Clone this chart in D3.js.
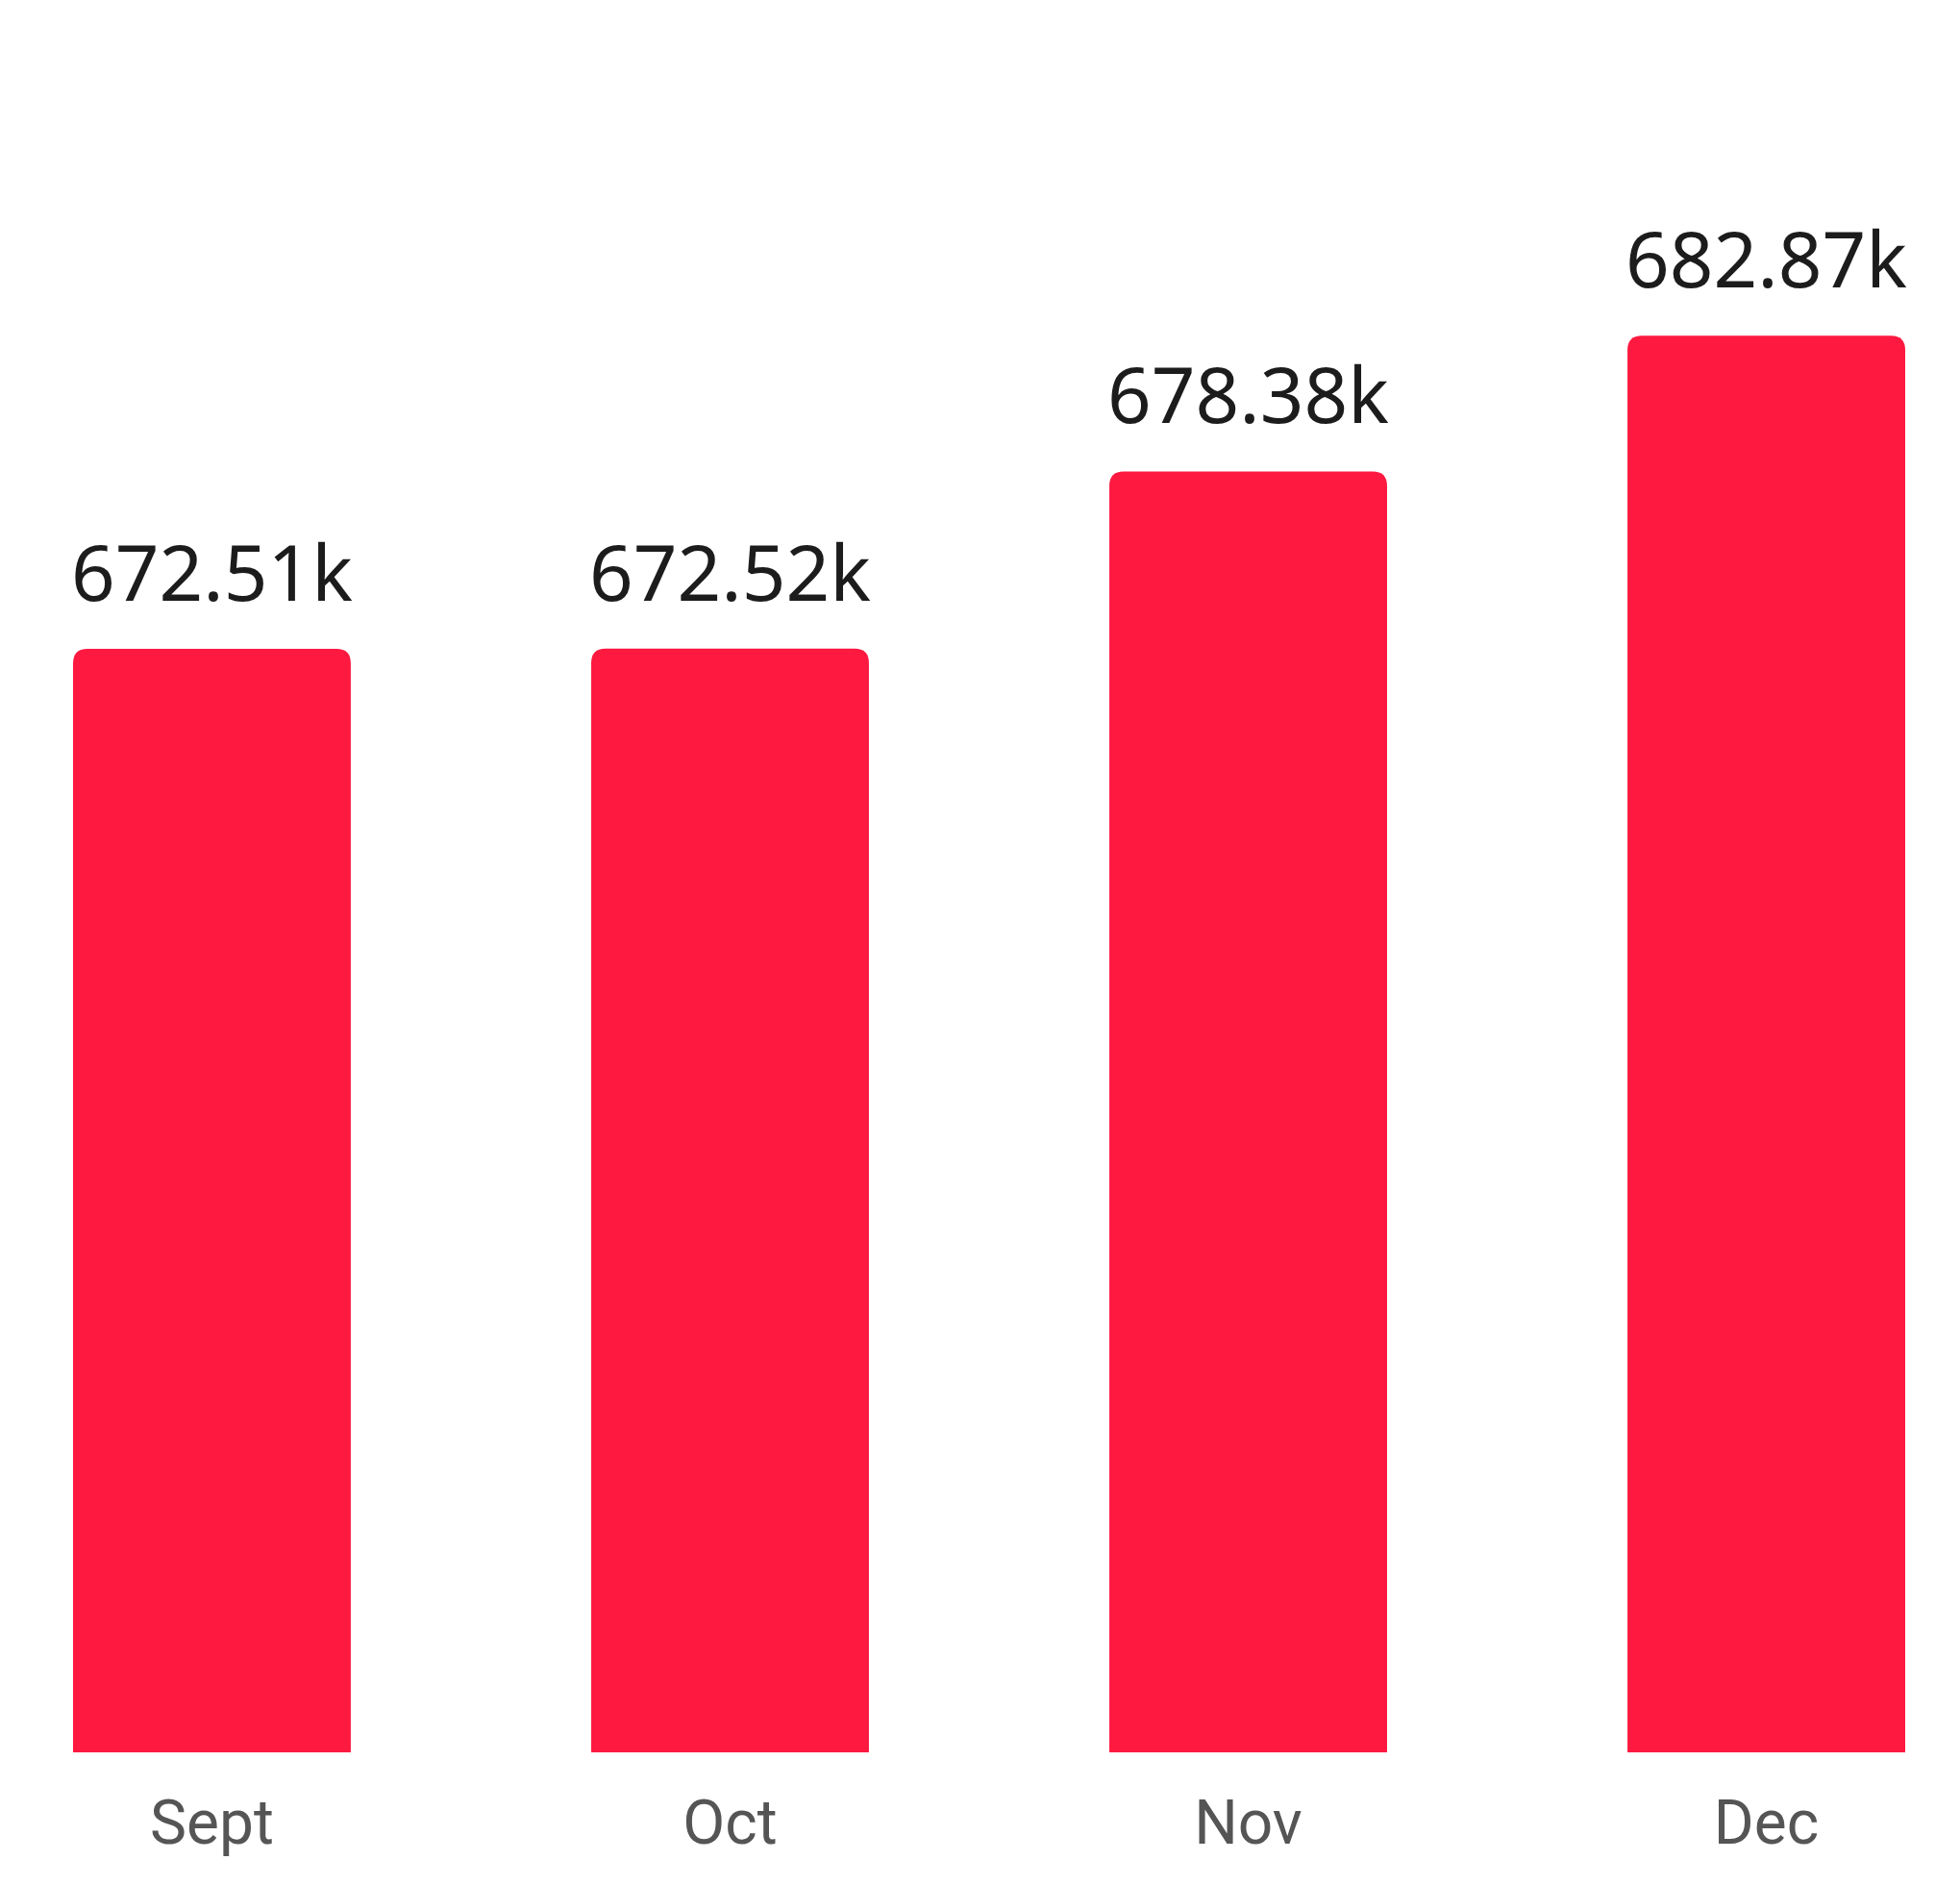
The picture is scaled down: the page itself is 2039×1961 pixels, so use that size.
<!DOCTYPE html>
<html>
<head>
<meta charset="utf-8">
<script src="https://cdn.jsdelivr.net/npm/d3@7"></script>
<style>
  html, body { margin: 0; padding: 0; background: #ffffff; }
  svg { display: block; }
</style>
</head>
<body>
<script>
const months = ["Sept", "Oct", "Nov", "Dec"];
const values = [672.51, 672.52, 678.38, 682.87];
const valueLabels = ["672.51k", "672.52k", "678.38k", "682.87k"];

const W = 2039, H = 1961;
const svg = d3.select("body").append("svg").attr("width", W).attr("height", H);

const x = d3.scaleBand().domain(months).range([76, 1982]).paddingInner(0.464).paddingOuter(0);
const y = d3.scaleLinear().domain([636, 690]).range([1823, 125]);

const r = 15;
function topRounded(x0, y0, w, h) {
  const p = d3.path();
  p.moveTo(x0, y0 + h);
  p.lineTo(x0, y0 + r);
  p.quadraticCurveTo(x0, y0, x0 + r, y0);
  p.lineTo(x0 + w - r, y0);
  p.quadraticCurveTo(x0 + w, y0, x0 + w, y0 + r);
  p.lineTo(x0 + w, y0 + h);
  p.closePath();
  return p.toString();
}

const data = months.map((m, i) => ({ m, v: values[i], label: valueLabels[i] }));

svg.append("g").selectAll("path").data(data).join("path")
  .attr("d", d => topRounded(x(d.m), y(d.v), x.bandwidth(), y(636) - y(d.v)))
  .attr("fill", "#FE1940");

svg.append("g").selectAll("text").data(data).join("text")
  .attr("x", d => x(d.m) + x.bandwidth() / 2)
  .attr("y", d => y(d.v) - 50)
  .attr("text-anchor", "middle")
  .attr("font-family", "'Noto Sans', sans-serif")
  .attr("font-size", 80)
  .attr("fill", "#1c1c1c")
  .text(d => d.label);

const xAxis = d3.axisBottom(x).tickSize(0).tickPadding(0);
const gx = svg.append("g").attr("transform", "translate(0,1823)").call(xAxis);
gx.select(".domain").remove();
gx.selectAll("text")
  .attr("dy", 0)
  .attr("y", 95)
  .attr("font-family", "Roboto, sans-serif")
  .attr("font-size", 64)
  .attr("fill", "#555555");
</script>
</body>
</html>
